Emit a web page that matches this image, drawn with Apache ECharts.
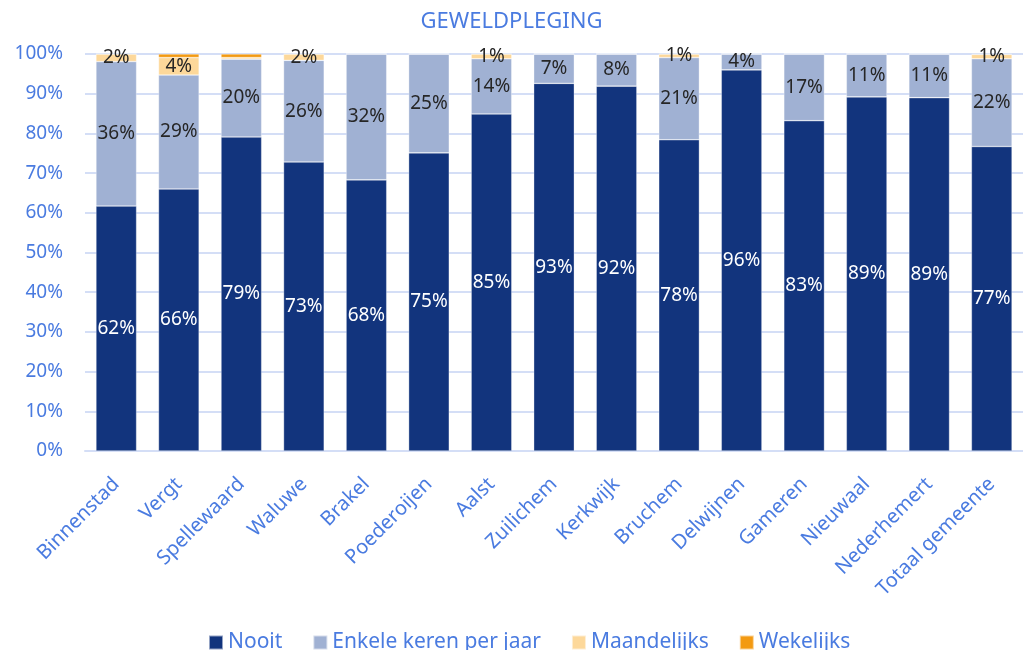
<!DOCTYPE html>
<html>
<head>
<meta charset="utf-8">
<script src="https://cdn.jsdelivr.net/npm/echarts@6/dist/echarts.min.js"></script>
<style>
  html, body { margin: 0; padding: 0; background: #fff; }
  #chart { width: 1023px; height: 650px; }
</style>
</head>
<body>
<div id="chart"></div>
<script>
// categorieën en percentages per frequentie
var categories = ['Binnenstad', 'Vergt', 'Spellewaard', 'Waluwe', 'Brakel', 'Poederoijen', 'Aalst',
  'Zuilichem', 'Kerkwijk', 'Bruchem', 'Delwijnen', 'Gameren', 'Nieuwaal', 'Nederhemert', 'Totaal gemeente'];
var nooit = [61.7, 66.0, 79.1, 72.8, 68.3, 75.1, 84.9, 92.6, 91.9, 78.4, 96.0, 83.2, 89.2, 89.0, 76.7];
var enkele = [36.4, 28.7, 19.6, 25.6, 31.7, 24.9, 13.9, 7.4, 8.1, 20.7, 4.0, 16.8, 10.8, 11.0, 22.1];
var maandelijks = [1.9, 4.4, 0.4, 1.6, 0, 0, 1.2, 0, 0, 0.9, 0, 0, 0, 0, 1.1];
var wekelijks = [0, 0.9, 0.9, 0, 0, 0, 0, 0, 0, 0, 0, 0, 0, 0, 0.1];
var yTicks = [0, 10, 20, 30, 40, 50, 60, 70, 80, 90, 100];

var blue = '#4a7be0';
var font = 'Noto Sans';

var pct = function(p) {
  var v = Math.round(p.value);
  return v >= 1 ? v + '%' : '';
};

var mkSeries = function(name, data, color, labelColor, showLabel) {
  return {
    name: name,
    type: 'bar',
    stack: 'total',
    barCategoryGap: '35%',
    data: data,
    itemStyle: { color: color, borderColor: 'rgba(255,255,255,0.55)', borderWidth: 0.6 },
    label: {
      show: showLabel,
      position: 'inside',
      color: labelColor,
      fontFamily: font,
      fontSize: 19,
      formatter: pct
    },
    emphasis: { disabled: true }
  };
};

var chart = echarts.init(document.getElementById('chart'));
chart.setOption({
  animation: false,
  title: {
    text: 'GEWELDPLEGING',
    left: 'center',
    top: 6,
    textStyle: { color: blue, fontFamily: font, fontSize: 22, fontWeight: 'normal' }
  },
  legend: {
    bottom: -8,
    left: 203,
    itemWidth: 14,
    itemHeight: 14,
    itemGap: 30,
    icon: 'rect',
    textStyle: { color: blue, fontFamily: font, fontSize: 21 },
    data: ['Nooit', 'Enkele keren per jaar', 'Maandelijks', 'Wekelijks']
  },
  grid: { left: 85, right: -11, top: 54, bottom: 199 },
  xAxis: {
    type: 'category',
    data: categories,
    axisTick: { show: false },
    axisLine: { lineStyle: { color: '#d4def6', width: 2 } },
    axisLabel: {
      rotate: 45,
      interval: 0,
      margin: 30,
      color: blue,
      fontFamily: font,
      fontSize: 20
    }
  },
  yAxis: {
    type: 'value',
    min: yTicks[0],
    max: yTicks[yTicks.length - 1],
    interval: 10,
    axisLine: { show: false },
    axisTick: { show: false },
    splitLine: { lineStyle: { color: '#d4def6', width: 2 } },
    axisLabel: {
      color: blue,
      fontFamily: font,
      fontSize: 19,
      margin: 22,
      formatter: '{value}%'
    }
  },
  series: [
    mkSeries('Nooit', nooit, '#12347d', '#ffffff', true),
    mkSeries('Enkele keren per jaar', enkele, '#a0b1d3', '#262626', true),
    mkSeries('Maandelijks', maandelijks, '#fdd89a', '#262626', true),
    mkSeries('Wekelijks', wekelijks, '#f39a12', '#262626', false)
  ]
});
</script>
</body>
</html>
